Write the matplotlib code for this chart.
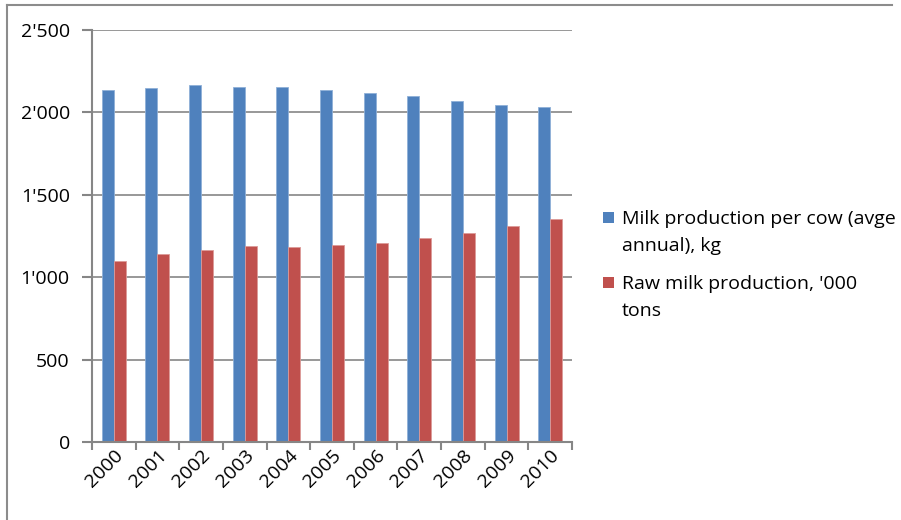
import matplotlib.pyplot as plt
from matplotlib.patches import Rectangle
from matplotlib.lines import Line2D
from matplotlib.ticker import FuncFormatter, FixedLocator
import numpy as np

years = ['2000', '2001', '2002', '2003', '2004', '2005',
         '2006', '2007', '2008', '2009', '2010']
per_cow = [2135, 2144, 2162, 2152, 2152, 2135, 2117, 2095, 2067, 2041, 2032]
raw_milk = [1097, 1137, 1166, 1188, 1180, 1192, 1206, 1235, 1268, 1311, 1353]
series_names = [['Milk production per cow (avge', 'annual), kg'],
                ["Raw milk production, '000", 'tons']]

BLUE = '#4f81bd'
RED = '#c0504d'
GREY = '#868686'
FS = 14

plt.rcParams['font.family'] = ['Open Sans', 'DejaVu Sans']

fig = plt.figure(figsize=(9.01, 5.2), dpi=100)
ax = fig.add_axes([0.1021, 0.15, 0.5327, 0.793])

x = np.arange(len(years))
w = 0.275
ax.bar(x - w / 2, per_cow, w, color=BLUE, edgecolor='#8fb0d8', linewidth=0.6, zorder=3)
ax.bar(x + w / 2, raw_milk, w, color=RED, edgecolor='#dc9a98', linewidth=0.6, zorder=3)

ax.set_xlim(-0.5, len(years) - 0.5)
ax.set_ylim(0, 2500)

# y axis: apostrophe as thousands separator
ax.set_yticks(range(0, 2501, 500))
ax.yaxis.set_major_formatter(FuncFormatter(lambda v, p: f'{int(v):,}'.replace(',', "'")))
ax.yaxis.grid(True, color=GREY, linewidth=1.2, zorder=0)

# x axis: tick marks between categories, labels at centres
ax.xaxis.set_major_locator(FixedLocator(np.arange(-0.5, len(years), 1.0)))
ax.xaxis.set_major_formatter(FuncFormatter(lambda v, p: ''))
ax.xaxis.set_minor_locator(FixedLocator(x))
ax.set_xticklabels(years, minor=True)
ax.tick_params(axis='x', which='minor', length=0, pad=3, labelsize=FS)
for lbl in ax.get_xticklabels(minor=True):
    lbl.set_rotation(45)
    lbl.set_ha('right')
    lbl.set_va('top')
    lbl.set_rotation_mode('anchor')
ax.tick_params(axis='x', which='major', length=6, width=1.5, color=GREY)
ax.tick_params(axis='y', length=7, width=1.5, color=GREY, pad=9, labelsize=FS)

for side in ['top', 'right']:
    ax.spines[side].set_visible(False)
for side in ['left', 'bottom']:
    ax.spines[side].set_color(GREY)
    ax.spines[side].set_linewidth(1.5)
    ax.spines[side].set_zorder(4)

# legend drawn by hand so the swatch sits on the first line of each label
W, H = 901, 520
legend_rows = [(BLUE, 212, [224, 251]), (RED, 277, [289, 316])]
for (color, sq_top, baselines), lines in zip(legend_rows, series_names):
    fig.patches.append(Rectangle((603 / W, 1 - (sq_top + 11) / H), 11 / W, 11 / H,
                                 transform=fig.transFigure, facecolor=color,
                                 edgecolor='none'))
    for b, t in zip(baselines, lines):
        fig.text(622 / W, 1 - b / H, t, fontsize=FS, va='baseline', ha='left')

# chart border (top and left edges)
fig.add_artist(Line2D([7 / W, 892 / W], [1 - 5 / H, 1 - 5 / H],
                      transform=fig.transFigure, color='#8c8c8c', linewidth=1.5))
fig.add_artist(Line2D([7 / W, 7 / W], [1 - 5 / H, 0],
                      transform=fig.transFigure, color='#8c8c8c', linewidth=1.5))

fig.savefig('out.png', dpi=100)
